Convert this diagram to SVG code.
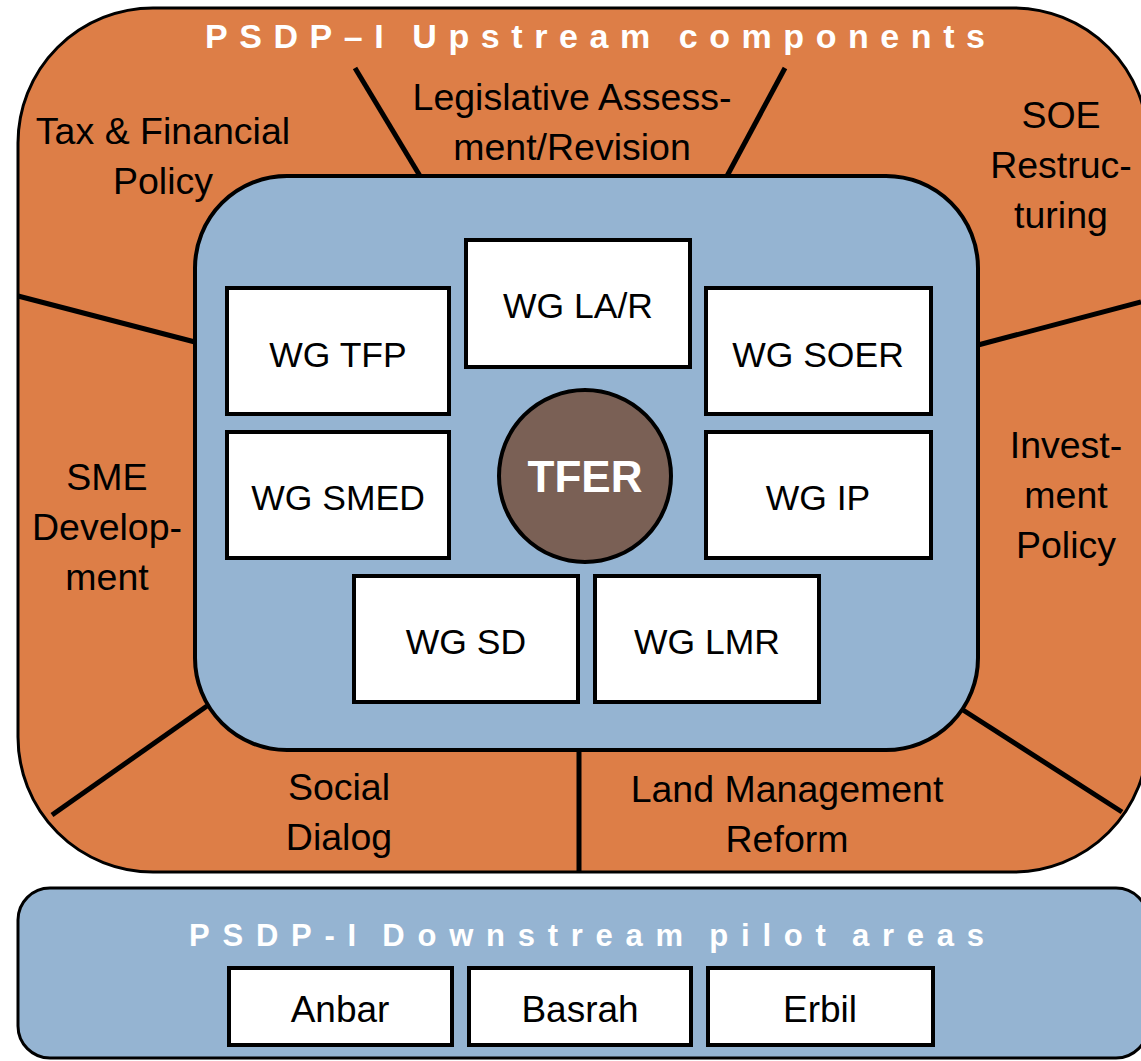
<svg xmlns="http://www.w3.org/2000/svg" width="1141" height="1061" viewBox="0 0 1141 1061">
<style>
.lbl{font-family:"Liberation Sans",Arial,sans-serif;font-size:37.5px;fill:#000;text-anchor:middle}
.wg{font-family:"Liberation Sans",Arial,sans-serif;font-size:35.5px;fill:#000;text-anchor:middle}
.pa{font-family:"Liberation Sans",Arial,sans-serif;font-size:37px;fill:#000;text-anchor:middle}
.box{fill:#fff;stroke:#000;stroke-width:4}
.div{stroke:#000;stroke-width:5;fill:none}
.ttl{font-family:"Liberation Sans",Arial,sans-serif;font-weight:bold;fill:#fff}
</style>
<rect width="1141" height="1061" fill="#fff"/>
<g id="upstream">
<rect x="18" y="8" width="1130" height="864" rx="135" ry="135" fill="#dd7e47" stroke="#000" stroke-width="3"/>
<text class="ttl" x="205" y="48" font-size="34" word-spacing="-4" textLength="780" lengthAdjust="spacing">PSDP–I Upstream components</text>
</g>
<g id="core">
<rect x="195" y="176" width="783" height="574" rx="92" ry="92" fill="#95b4d2" stroke="#000" stroke-width="4"/>
</g>
<g id="connectors">
<line class="div" x1="355" y1="68" x2="420" y2="176"/>
<line class="div" x1="785" y1="68" x2="727" y2="176"/>
<line class="div" x1="18" y1="296" x2="195" y2="342"/>
<line class="div" x1="1141" y1="302" x2="978" y2="345"/>
<line class="div" x1="207" y1="706" x2="52" y2="815"/>
<line class="div" x1="963" y1="710" x2="1122" y2="812"/>
<line class="div" x1="579" y1="750" x2="579" y2="872"/>
</g>
<g id="labels">
<g id="tfp-area"><text class="lbl" x="163" y="144">Tax &amp; Financial</text><text class="lbl" x="163" y="194">Policy</text></g>
<g id="lar-area"><text class="lbl" x="572" y="110">Legislative Assess-</text><text class="lbl" x="572" y="160">ment/Revision</text></g>
<g id="soer-area"><text class="lbl" x="1061" y="128">SOE</text><text class="lbl" x="1061" y="178">Restruc-</text><text class="lbl" x="1061" y="228">turing</text></g>
<g id="sme-area"><text class="lbl" x="107" y="490">SME</text><text class="lbl" x="107" y="540">Develop-</text><text class="lbl" x="107" y="590">ment</text></g>
<g id="ip-area"><text class="lbl" x="1066" y="458">Invest-</text><text class="lbl" x="1066" y="508">ment</text><text class="lbl" x="1066" y="558">Policy</text></g>
<g id="sd-area"><text class="lbl" x="339" y="800">Social</text><text class="lbl" x="339" y="850">Dialog</text></g>
<g id="lmr-area"><text class="lbl" x="787" y="802">Land Management</text><text class="lbl" x="787" y="852">Reform</text></g>
</g>
<g id="wg-tfp"><rect class="box" x="227" y="288" width="222" height="126"/><text class="wg" x="338" y="367">WG TFP</text></g>
<g id="wg-lar"><rect class="box" x="466" y="240" width="224" height="127"/><text class="wg" x="578" y="318">WG LA/R</text></g>
<g id="wg-soer"><rect class="box" x="706" y="288" width="225" height="126"/><text class="wg" x="818" y="367">WG SOER</text></g>
<g id="wg-smed"><rect class="box" x="227" y="432" width="222" height="126"/><text class="wg" x="338" y="510">WG SMED</text></g>
<g id="wg-ip"><rect class="box" x="706" y="432" width="225" height="126"/><text class="wg" x="818" y="510">WG IP</text></g>
<g id="wg-sd"><rect class="box" x="354" y="576" width="224" height="126"/><text class="wg" x="466" y="654">WG SD</text></g>
<g id="wg-lmr"><rect class="box" x="595" y="576" width="224" height="126"/><text class="wg" x="707" y="654">WG LMR</text></g>
<g id="tfer"><circle cx="585" cy="476" r="86" fill="#7a6055" stroke="#000" stroke-width="4"/><text x="585" y="492" font-family="'Liberation Sans',Arial,sans-serif" font-weight="bold" font-size="44" fill="#fff" text-anchor="middle">TFER</text></g>
<g id="downstream">
<rect x="18" y="888" width="1130" height="170" rx="32" ry="32" fill="#95b4d2" stroke="#000" stroke-width="3"/>
<text class="ttl" x="189" y="946" font-size="31" word-spacing="-8" textLength="795" lengthAdjust="spacing">PSDP-I Downstream pilot areas</text>
</g>
<g id="anbar"><rect class="box" x="229" y="968" width="223" height="77"/><text class="pa" x="340" y="1022">Anbar</text></g>
<g id="basrah"><rect class="box" x="469" y="968" width="222" height="77"/><text class="pa" x="580" y="1022">Basrah</text></g>
<g id="erbil"><rect class="box" x="708" y="968" width="225" height="77"/><text class="pa" x="820" y="1022">Erbil</text></g>
</svg>
